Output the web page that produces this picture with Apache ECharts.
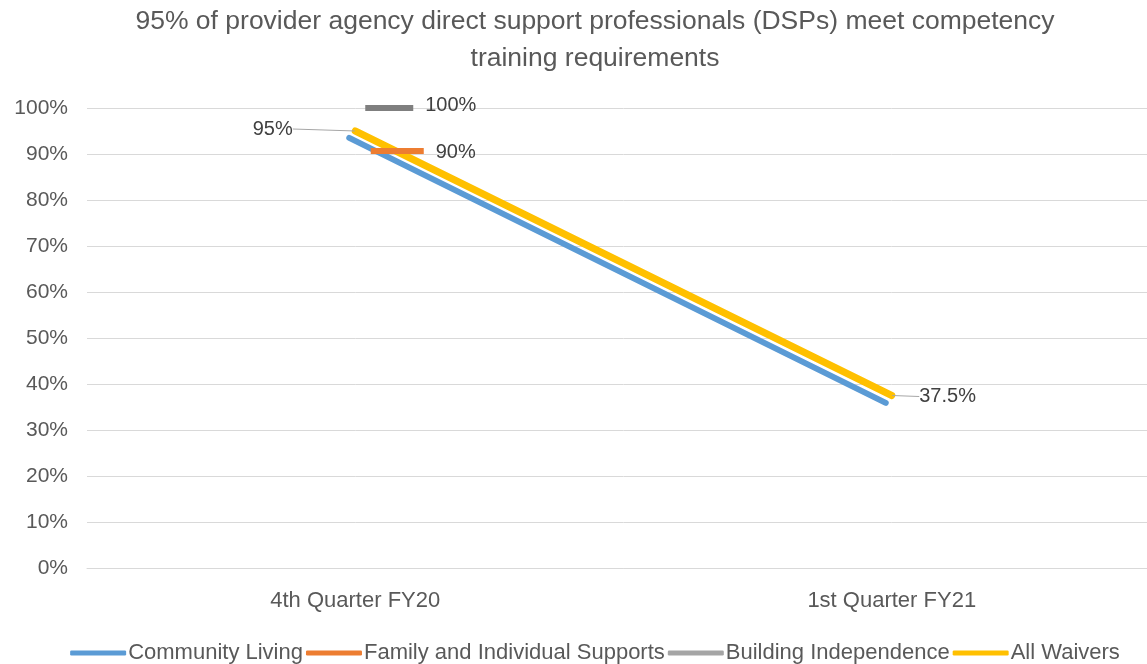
<!DOCTYPE html>
<html>
<head>
<meta charset="utf-8">
<script src="https://cdn.jsdelivr.net/npm/echarts@6/dist/echarts.min.js"></script>
<style>
  html, body { margin: 0; padding: 0; background: #fff; overflow: hidden; }
  /* original chart is a bit wider than the visible crop */
  #main { width: 1190px; height: 664px; }
</style>
</head>
<body>
<div id="main"></div>
<script>
// chart data
var quarters = ['4th Quarter FY20', '1st Quarter FY21'];
var communityLiving = [0.935, 0.359];
var familySupports = [0.90, null];
var buildingIndep = [1.00, null];
var allWaivers = [0.95, 0.375];
var yTicks = [0, 1, 0.1]; // min, max, step

var font = 'Liberation Sans';
var pct = function (v) { return Math.round(v * 1000) / 10 + '%'; };

var myChart = echarts.init(document.getElementById('main'));

var option = {
    animation: false,
    textStyle: { fontFamily: font },
    title: {
        text: '95% of provider agency direct support professionals (DSPs) meet competency\ntraining requirements',
        left: 'center',
        top: -2,
        textStyle: { fontFamily: font, fontSize: 26.5, fontWeight: 'normal', color: '#595959', lineHeight: 37 }
    },
    legend: {
        bottom: -5,
        left: 'center',
        icon: 'roundRect',
        itemWidth: 56,
        itemHeight: 5,
        itemGap: 3,
        textStyle: { fontFamily: font, fontSize: 22, color: '#595959', padding: [0, 0, 0, -3] },
        data: ['Community Living', 'Family and Individual Supports', 'Building Independence', 'All Waivers']
    },
    grid: [
        { left: 87, right: 30, top: 108, bottom: 96 },
        // blue line sits a few px left of the others in the original
        { left: 81, right: 36, top: 108, bottom: 96 }
    ],
    xAxis: [{
        type: 'category',
        data: quarters,
        gridIndex: 0,
        axisLine: { lineStyle: { color: '#d9d9d9' } },
        axisTick: { show: false },
        axisLabel: { fontSize: 22, color: '#595959', margin: 22 }
    }, {
        type: 'category',
        data: quarters,
        gridIndex: 1,
        show: false
    }],
    yAxis: [{
        type: 'value',
        gridIndex: 0,
        min: yTicks[0],
        max: yTicks[1],
        interval: yTicks[2],
        axisLabel: { fontSize: 21, color: '#595959', margin: 19, formatter: function (v) { return Math.round(v * 100) + '%'; } },
        splitLine: { lineStyle: { color: '#d9d9d9' } },
        axisLine: { show: false },
        axisTick: { show: false }
    }, {
        type: 'value',
        gridIndex: 1,
        min: yTicks[0],
        max: yTicks[1],
        interval: yTicks[2],
        show: false,
        splitLine: { show: false }
    }],
    series: [
        {
            name: 'Community Living',
            type: 'line',
            xAxisIndex: 1,
            yAxisIndex: 1,
            data: communityLiving,
            showSymbol: false,
            color: '#5B9BD5',
            lineStyle: { width: 6, cap: 'round' },
            z: 2
        },
        {
            name: 'All Waivers',
            type: 'line',
            data: allWaivers.map(function (v, i) {
                return { value: v, label: { position: i === 0 ? 'left' : 'right' } };
            }),
            symbol: 'circle',
            symbolSize: 1,
            showSymbol: true,
            color: '#FFC000',
            lineStyle: { width: 7, cap: 'round' },
            label: {
                show: true,
                fontSize: 20,
                color: '#404040',
                formatter: function (p) { return pct(p.value); }
            },
            labelLine: { show: true, lineStyle: { color: '#a6a6a6', width: 1 } },
            labelLayout: function (p) {
                return p.dataIndex === 0 ? { dx: -57, dy: -2 } : { dx: 22, dy: 1 };
            },
            z: 3
        },
        {
            name: 'Building Independence',
            type: 'line',
            data: buildingIndep.map(function (v) {
                return v == null ? v : { value: v, itemStyle: { color: '#7f7f7f' } };
            }),
            color: '#A5A5A5',
            symbol: 'rect',
            symbolSize: [48, 6],
            symbolOffset: [34, 0],
            showSymbol: true,
            label: {
                show: true,
                position: 'right',
                distance: 12,
                offset: [0, -3],
                fontSize: 20,
                color: '#404040',
                formatter: function (p) { return pct(p.value); }
            },
            z: 4
        },
        {
            name: 'Family and Individual Supports',
            type: 'line',
            data: familySupports,
            color: '#ED7D31',
            symbol: 'rect',
            symbolSize: [53, 6],
            symbolOffset: [42, -3],
            showSymbol: true,
            label: {
                show: true,
                position: 'right',
                distance: 12,
                offset: [0, 1],
                fontSize: 20,
                color: '#404040',
                formatter: function (p) { return pct(p.value); }
            },
            z: 4
        }
    ]
};

myChart.setOption(option);
</script>
</body>
</html>
